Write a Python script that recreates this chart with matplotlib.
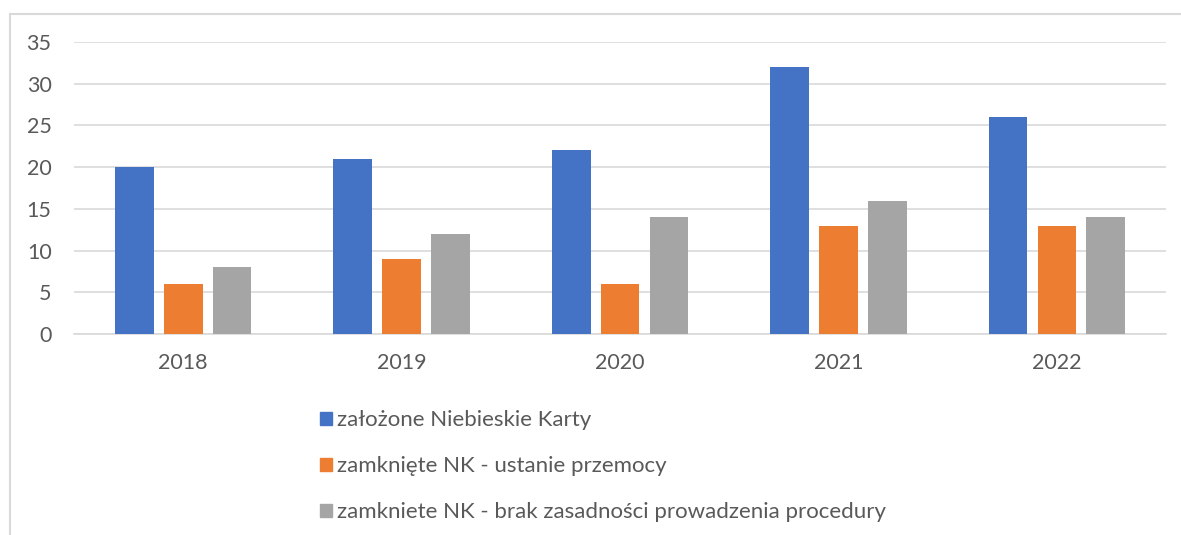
import numpy as np
import matplotlib.pyplot as plt
from matplotlib.patches import Patch, Rectangle

years = ['2018', '2019', '2020', '2021', '2022']
zalozone = [20, 21, 22, 32, 26]
ustanie = [6, 9, 6, 13, 13]
brak_zasadnosci = [8, 12, 14, 16, 14]
labels = ['założone Niebieskie Karty',
          'zamknięte NK - ustanie przemocy',
          'zamkniete NK - brak zasadności prowadzenia procedury']
colors = ['#4472C4', '#ED7D31', '#A5A5A5']

plt.rcParams['font.family'] = ['Lato', 'DejaVu Sans']

fig = plt.figure(figsize=(11.81, 5.35), dpi=100)
ax = fig.add_axes([0.0625, 0.3757, 0.925, 0.5458])

x = np.arange(len(years))
width = 0.178
step = 0.224
for i, (vals, col) in enumerate(zip([zalozone, ustanie, brak_zasadnosci], colors)):
    ax.bar(x + (i - 1) * step, vals, width, color=col, zorder=3)

ax.set_xlim(-0.5, len(years) - 0.5)
ax.set_ylim(0, 35)
ax.set_yticks(range(0, 36, 5))
ax.set_xticks(x)
ax.set_xticklabels(years)
ax.grid(axis='y', color='#D9D9D9', linewidth=1.2, zorder=0)
for s in ['top', 'right', 'left']:
    ax.spines[s].set_visible(False)
ax.spines['bottom'].set_color('#D9D9D9')
ax.spines['bottom'].set_linewidth(1.2)
ax.tick_params(length=0, labelsize=15.5, colors='#595959')
ax.tick_params(axis='x', pad=14)
ax.tick_params(axis='y', pad=16)

handles = [Patch(color=c) for c in colors]
fig.legend(handles, labels, loc='upper left', bbox_to_anchor=(0.271, 0.233),
           frameon=False, fontsize=16, labelcolor='#595959',
           handlelength=0.55, handleheight=0.55, handletextpad=0.2,
           labelspacing=1.17, borderpad=0, borderaxespad=0)

# chart border (right and bottom fall outside the picture)
fig.patches.append(Rectangle((10 / 1181, -0.05), 1.2, 1.05 - 14 / 535,
                             transform=fig.transFigure, fill=False,
                             edgecolor='#D9D9D9', linewidth=1.5))

fig.savefig('out.png', dpi=100)
